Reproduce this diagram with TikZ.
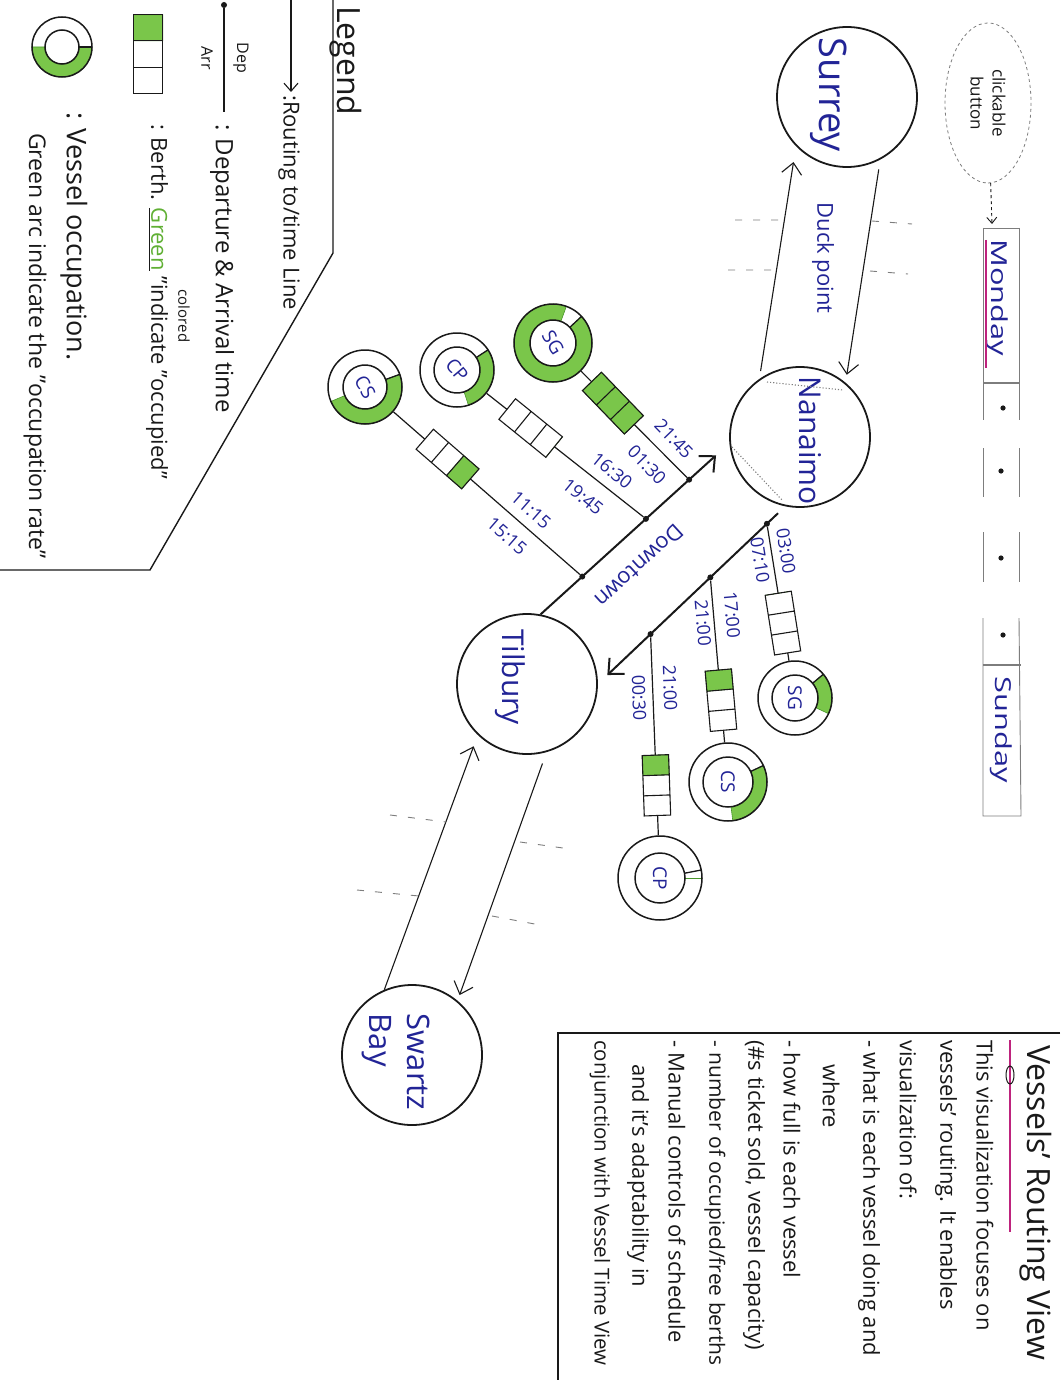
\documentclass[tikz,border=0pt]{standalone}
\usepackage{fontspec}
\setmainfont{Open Sans}
\usetikzlibrary{arrows.meta,calc,shapes.geometric}

\definecolor{inkblue}{RGB}{34,36,150}
\definecolor{occfill}{RGB}{122,198,74}
\definecolor{occedge}{RGB}{72,150,42}
\definecolor{greenword}{RGB}{96,176,52}
\definecolor{penblack}{RGB}{25,25,25}
\definecolor{underpink}{RGB}{190,35,125}
\definecolor{pencil}{RGB}{125,125,125}

\newcommand{\sizept}[2]{\fontsize{#1}{#2}\selectfont}

\tikzset{
  ink/.style={draw=penblack, line width=1.3pt},
  station/.style={circle, draw=penblack, line width=1.8pt, minimum size=140, inner sep=0pt},
  bluetxt/.style={text=inkblue, inner sep=0pt},
  blacktxt/.style={text=penblack, inner sep=0pt},
  route/.style={draw=penblack, line width=1.1pt, -{Straight Barb[length=11pt,width=20pt]}},
  mainline/.style={draw=penblack, line width=2pt, -{Straight Barb[length=12pt,width=22pt]}},
  branch/.style={draw=penblack, line width=1.2pt},
  dotnode/.style={circle, fill=penblack, inner sep=0pt, minimum size=6},
  vesselout/.style={circle, draw=penblack, line width=1.5pt, inner sep=0pt},
  vesselin/.style={circle, draw=penblack, line width=1.5pt, inner sep=0pt, text=inkblue, font=\sizept{19}{22}},
  berthshape/.style={rectangle, inner sep=0pt, minimum width=60, minimum height=26},
  cellline/.style={draw=penblack, line width=1.1pt},
  occ/.style={fill=occfill, draw=occedge, line width=0.6pt},
  pencildash/.style={draw=pencil, line width=0.9pt, dash pattern=on 7pt off 11pt},
  calline/.style={draw=pencil, line width=0.9pt},
  timetxt/.style={text=inkblue, inner sep=0pt, font=\sizept{18}{21}},
}

% vessel ring: name, centre, outer r, inner r, divider angle, green from, green to, label, label rotation
\newcommand{\vesselring}[9]{%
  \coordinate (#1c) at (#2);
  \fill[occ] ([shift={(#6:#3)}]#1c) arc[start angle=#6, end angle=#7, radius=#3]
    -- ([shift={(#7:#4)}]#1c) arc[start angle=#7, end angle=#6, radius=#4] -- cycle;
  \node[vesselout, minimum size=2*#3] (#1) at (#1c) {};
  \node[vesselin, minimum size=2*#4, rotate=#9] (#1in) at (#1c) {#8};
  \draw[ink] ([shift={(#5:#4)}]#1c) -- ([shift={(#5:#3)}]#1c);
}

% berth box of three cells: name, centre, shape options, occupied fraction (from the east end)
\newcommand{\berthbox}[4]{%
  \node[berthshape, #3] (#1) at (#2) {};
  \fill[occ] (#1.north east) -- ($(#1.north east)!#4!(#1.north west)$)
    -- ($(#1.south east)!#4!(#1.south west)$) -- (#1.south east) -- cycle;
  \draw[cellline] (#1.north east) -- (#1.north west) -- (#1.south west) -- (#1.south east) -- cycle
    ($(#1.north east)!0.333!(#1.north west)$) -- ($(#1.south east)!0.333!(#1.south west)$)
    ($(#1.north east)!0.667!(#1.north west)$) -- ($(#1.south east)!0.667!(#1.south west)$);
}

\begin{document}
\begin{tikzpicture}[x=1pt,y=-1pt]
\useasboundingbox (0,0) rectangle (1060,1380);
\clip (0,0) rectangle (1060,1380);
\fill[white] (0,0) rectangle (1060,1380);

% ---------------- legend ----------------
\coordinate (lgA) at (333,0);
\coordinate (lgB) at (333,253);
\coordinate (lgC) at (150,570);
\coordinate (lgD) at (0,570);
\draw[ink, line width=1.4pt] (lgA) -- (lgB) -- (lgC) -- (lgD);
\node[blacktxt, rotate=-90, anchor=base west, font=\sizept{32}{38}] (legendL) at (337,6) {Legend};

\coordinate (rtA) at (291,0);
\coordinate (rtB) at (291,92);
\draw[ink, line width=1.1pt, -{Straight Barb[length=8pt,width=14pt]}] (rtA) -- (rtB);
\node[blacktxt, rotate=-90, anchor=west, font=\sizept{22}{26}] (routL) at (289,95) {:Routing to/time Line};

\node[dotnode] (depdot) at (224,5) {};
\coordinate (depend) at (224,112);
\draw[ink, line width=1.1pt] (depdot) -- (depend);
\node[blacktxt, rotate=-90, font=\sizept{16}{19}] (depL) at (241,58) {Dep};
\node[blacktxt, rotate=-90, font=\sizept{16}{19}] (arrL) at (207,58) {Arr};
\node[blacktxt, rotate=-90, anchor=west, font=\sizept{24}{28}] (depText) at (222,124) {: Departure \& Arrival time};

\berthbox{bLeg}{148,54}{rotate=90, minimum width=78, minimum height=29}{0.333}
\node[blacktxt, rotate=-90, anchor=west, font=\sizept{22}{26}] (berthL) at (157,124)
  {: Berth. \underline{\textcolor{greenword}{Green}} "indicate "occupied"};
\node[blacktxt, rotate=-90, font=\sizept{15}{18}] (coloredL) at (184,316) {colored};

\vesselring{vLeg}{62,47}{30}{17}{0}{0}{180}{}{-90}
\node[blacktxt, rotate=-90, anchor=west, font=\sizept{27}{31}] (vesL) at (74,112) {: Vessel occupation.};
\node[blacktxt, rotate=-90, anchor=west, font=\sizept{23}{27}] (greenArcL) at (35,133) {Green arc indicate the "occupation rate"};

% ---------------- day selector ----------------
\node[ellipse, draw=pencil, dashed, line width=0.8pt, minimum width=160, minimum height=86,
      inner sep=0pt, rotate=-90, align=center, text=penblack, font=\sizept{17}{22}] (btn) at (988,103) {clickable\\button};
\coordinate (monTop) at (992,224);
\draw[draw=penblack, line width=0.9pt, dashed, -{Straight Barb[length=6pt,width=10pt]}] (btn) -- (monTop);

\draw[calline] (983,228) -- (1019,228);
\draw[calline] (983,228) -- (983,420) (1019,228) -- (1019,420);
\draw[calline] (983,448) -- (983,497) (1019,448) -- (1019,497);
\draw[calline] (983,532) -- (983,582) (1019,532) -- (1019,582);
\draw[calline] (983,618) -- (983,816) -- (1021,816) -- (1019,618);
\draw[calline, line width=2.2pt] (983,383) -- (1019,383);
\draw[calline, line width=2.2pt] (983,665) -- (1021,665);
\fill[penblack] (1003,408) circle (2.6) (1001,471) circle (2.6) (1001,558) circle (2.6) (1003,635) circle (2.6);
\node[bluetxt, rotate=-90, font=\sizept{22}{26}] (mondayL) at (997,298) {\scalebox{1.4}[1]{Monday}};
\draw[underpink, line width=1.5pt] (986,240) -- (986,368);
\node[bluetxt, rotate=-90, font=\sizept{22}{26}] (sundayL) at (1001,730) {\scalebox{1.4}[1]{Sunday}};

% ---------------- terminals ----------------
\node[station] (surrey) at (847,97) {};
\node[station] (nanaimo) at (800,437) {};
\node[station] (tilbury) at (527,684) {};
\node[station] (swartz) at (412,1055) {};

\node[bluetxt, rotate=-90, font=\sizept{38}{44}] (surreyL) at (829,95) {Surrey};
\node[bluetxt, rotate=-90, font=\sizept{30}{36}] (nanaimoL) at (810,441) {Nanaimo};
\node[bluetxt, rotate=-90, font=\sizept{30}{36}] (tilburyL) at (510,677) {Tilbury};
\node[bluetxt, rotate=-90, align=left, font=\sizept{31}{38}] (swartzL) at (396,1062) {Swartz\\Bay};

\draw[pencil, dotted, line width=1.1pt] (767,382) -- (843,390) (732,447) -- (782,500);

% Surrey - Nanaimo
\draw[route, shorten <=8pt, shorten >=16pt] (nanaimo.125) -- (surrey.224);
\draw[route, shorten <=10pt, shorten >=8pt] (surrey.-62) -- (nanaimo.50);
\node[bluetxt, rotate=-90, font=\sizept{22}{26}] (duckL) at (823,258) {Duck point};
\draw[pencildash] (735,220) -- (782,220) (872,221) -- (912,224);
\draw[pencildash] (728,270) -- (774,270) (870,271) -- (908,274);

% Tilbury - Swartz Bay
\draw[route, shorten >=12pt] (swartz.113) -- (tilbury.226);
\draw[route, shorten <=12pt, shorten >=6pt] (tilbury.-74) -- (swartz.50);
\draw[pencildash] (390,815) -- (446,822) (520,842) -- (563,848);
\draw[pencildash] (357,890) -- (419,896) (492,916) -- (540,925);

% Nanaimo - Tilbury (Downtown)
\draw[mainline, shorten >=18pt] (tilbury.79) -- (nanaimo.185);
\draw[mainline, shorten <=10pt, shorten >=13pt] (nanaimo.258) -- (tilbury.0);
\node[bluetxt, rotate=-137.5, font=\sizept{22}{26}] (downtownL) at (639,566) {Downtown};

\node[dotnode] (dU3) at ($(tilbury.79)!0.221!(nanaimo.185)$) {};
\node[dotnode] (dU2) at ($(tilbury.79)!0.558!(nanaimo.185)$) {};
\node[dotnode] (dU1) at ($(tilbury.79)!0.787!(nanaimo.185)$) {};
\node[dotnode] (dL1) at ($(nanaimo.258)!0.098!(tilbury.0)$) {};
\node[dotnode] (dL2) at ($(nanaimo.258)!0.40!(tilbury.0)$) {};
\node[dotnode] (dL3) at ($(nanaimo.258)!0.719!(tilbury.0)$) {};

% vessels on the Tilbury -> Nanaimo run
\vesselring{vU1}{553,343}{39}{23}{-43}{-43}{290}{SG}{-60}
\vesselring{vU2}{457,370}{37}{23}{-33}{-33}{72}{CP}{-50}
\vesselring{vU3}{365,387}{37}{22}{-20}{-20}{157}{CS}{-60}
% vessels on the Nanaimo -> Tilbury run
\vesselring{vL1}{795,698}{37}{23}{-40}{-40}{25}{SG}{-90}
\vesselring{vL2}{728,782}{39}{25}{-25}{-25}{83}{CS}{-90}
\vesselring{vL3}{660,878}{42}{25}{-11}{0}{0}{CP}{-90}

\berthbox{bU1}{$(dU1)!0.56!(vU1c)$}{rotate=-46}{1}
\berthbox{bU2}{$(dU2)!0.61!(vU2c)$}{rotate=-39}{0}
\berthbox{bU3}{$(dU3)!0.62!(vU3c)$}{rotate=-41}{0.333}
\berthbox{bL1}{$(dL1)!0.57!(vL1c)$}{rotate=99}{0}
\berthbox{bL2}{$(dL2)!0.60!(vL2c)$}{rotate=95}{0.333}
\berthbox{bL3}{$(dL3)!0.62!(vL3c)$}{rotate=92}{0.333}

\draw[branch] (dU1) -- (bU1) (bU1) -- (vU1);
\draw[branch] (dU2) -- (bU2) (bU2) -- (vU2);
\draw[branch] (dU3) -- (bU3) (bU3) -- (vU3);
\draw[branch] (dL1) -- (bL1) (bL1) -- (vL1);
\draw[branch] (dL2) -- (bL2) (bL2) -- (vL2);
\draw[branch] (dL3) -- (bL3) (bL3) -- (vL3);

% departure / arrival times
\node[timetxt, rotate=-46] (tU1d) at (674,439) {21:45};
\node[timetxt, rotate=-46] (tU1a) at (647,465) {01:30};
\node[timetxt, rotate=-39] (tU2d) at (612,471) {16:30};
\node[timetxt, rotate=-39] (tU2a) at (583,497) {19:45};
\node[timetxt, rotate=-41] (tU3d) at (531,510) {11:15};
\node[timetxt, rotate=-41] (tU3a) at (507,536) {15:15};
\node[timetxt, rotate=-81] (tL1d) at (786,551) {03:00};
\node[timetxt, rotate=-81] (tL1a) at (760,560) {07:10};
\node[timetxt, rotate=-85] (tL2d) at (732,615) {17:00};
\node[timetxt, rotate=-85] (tL2a) at (703,623) {21:00};
\node[timetxt, rotate=-88] (tL3d) at (670,688) {21:00};
\node[timetxt, rotate=-88] (tL3a) at (639,698) {00:30};

% ---------------- description box ----------------
\coordinate (ibA) at (1060,1033);
\coordinate (ibB) at (558,1033);
\coordinate (ibC) at (558,1380);
\draw[ink, line width=1.1pt] (ibA) -- (ibB) -- (ibC);
\node[blacktxt, rotate=-90, anchor=west, font=\sizept{32}{36}] (infoTitle) at (1036,1045) {Vessels' Routing View};
\draw[underpink, line width=1.5pt] (1010,1040) -- (1010,1232);
\draw[ink, line width=1pt] (1010,1075) ellipse [x radius=4, y radius=9];
\begin{scope}[every node/.style={blacktxt, rotate=-90, anchor=west, font=\sizept{22}{26}}]
  \node (info1) at (985,1040) {This visualization focuses on};
  \node (info2) at (946,1040) {vessels' routing. It enables};
  \node (info3) at (908,1040) {visualization of:};
  \node (info4) at (869,1040) {- what is each vessel doing and};
  \node (info5) at (831,1064) {where};
  \node (info6) at (792,1040) {- how full is each vessel};
  \node (info7) at (754,1040) {(\#s ticket sold, vessel capacity)};
  \node[font=\sizept{21}{25}] (info8) at (715,1040) {- number of occupied/free berths};
  \node (info9) at (677,1040) {- Manual controls of schedule};
  \node (info10) at (638,1064) {and it's adaptability in};
  \node[font=\sizept{20.5}{24}] (info11) at (600,1040) {conjunction with Vessel Time View};
\end{scope}
\end{tikzpicture}
\end{document}
